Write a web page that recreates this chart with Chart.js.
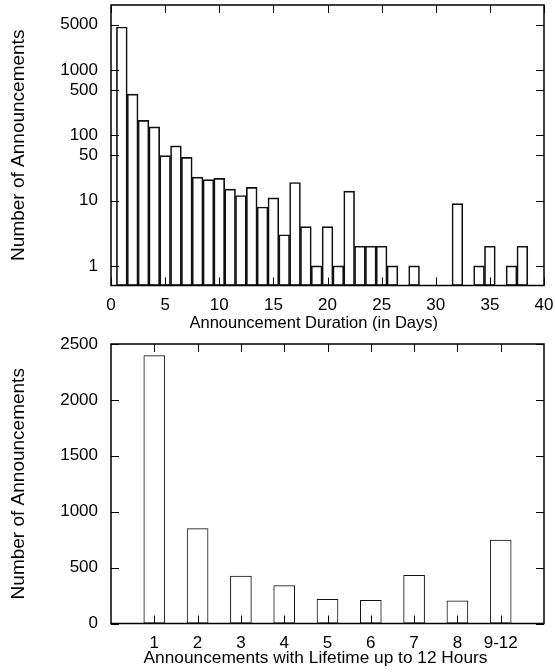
<!DOCTYPE html>
<html lang="en">

<head>
    <meta charset="UTF-8">
    <title>Announcement durations</title>
    <style>
        body { margin: 0; background: #fff; }
        canvas { position: absolute; left: 0; }
        #durChart { top: 0; }
        #hourChart { top: 336px; }
    </style>
</head>

<body>
    <canvas id="durChart" width="555" height="336"></canvas>
    <canvas id="hourChart" width="555" height="336"></canvas>

    <script src="https://cdn.jsdelivr.net/npm/chart.js"></script>

    <script>
        // top panel: announcements per duration in days (log scale)
        const days = [1, 2, 3, 4, 5, 6, 7, 8, 9, 10, 11, 12, 13, 14, 15, 16, 17, 18, 19, 20,
            21, 22, 23, 24, 25, 26, 27, 28, 29, 30, 31, 32, 33, 34, 35, 36, 37, 38];
        const dayCounts = [4600, 430, 170, 135, 49, 69, 46, 23, 21, 22, 15, 12, 16, 8, 11, 3, 19, 4, 1, 4,
            1, 14, 2, 2, 2, 1, 0, 1, 0, 0, 0, 9, 0, 1, 2, 0, 1, 2];
        const dayTicks = [0, 5, 10, 15, 20, 25, 30, 35, 40];
        const countTicks = [1, 10, 50, 100, 500, 1000, 5000];

        // bottom panel: announcements that lived up to 12 hours
        const hourLabels = ['1', '2', '3', '4', '5', '6', '7', '8', '9-12'];
        const hourCounts = [2400, 853, 428, 342, 220, 211, 434, 205, 749];
        const hourCountTicks = [0, 500, 1000, 1500, 2000, 2500];

        const family = 'Liberation Sans';
        const tickFont = { family: family, size: 17 };
        const yTitleFont = { family: family, size: 19 };
        Chart.defaults.color = '#000';

        // gnuplot style box + inward ticks on all four sides
        const frameTicks = {
            id: 'frameTicks',
            afterDatasetsDraw(chart) {
                const { ctx, chartArea: a, scales: { x, y } } = chart;
                ctx.save();
                ctx.strokeStyle = '#000';
                ctx.lineWidth = 1;
                ctx.beginPath();
                x.ticks.forEach(t => {
                    const px = Math.round(x.getPixelForValue(t.value)) + 0.5;
                    ctx.moveTo(px, a.bottom); ctx.lineTo(px, a.bottom - 8);
                    ctx.moveTo(px, a.top); ctx.lineTo(px, a.top + 8);
                });
                y.ticks.forEach(t => {
                    const py = Math.round(y.getPixelForValue(t.value)) + 0.5;
                    ctx.moveTo(a.left, py); ctx.lineTo(a.left + 8, py);
                    ctx.moveTo(a.right, py); ctx.lineTo(a.right - 8, py);
                });
                ctx.stroke();
                ctx.lineWidth = 1.5;
                ctx.strokeRect(a.left, a.top, a.width, a.height);
                ctx.restore();
            }
        };

        function barStyle() {
            return {
                backgroundColor: 'rgba(0,0,0,0)',
                borderColor: '#111',
                borderWidth: 1,
                borderSkipped: false,
                categoryPercentage: 1
            };
        }

        // fixed axis boxes, no extra room for overhanging labels
        function fixSize(w, h) {
            return s => {
                if (w) s.width = w;
                if (h) s.height = h;
                s.paddingTop = 0; s.paddingBottom = 0;
                s.paddingLeft = 0; s.paddingRight = 0;
            };
        }

        function yTitle() {
            return { display: true, text: 'Number of Announcements', font: yTitleFont, padding: { top: 7 } };
        }

        // x label sits a little left of the plot centre, as in the original (trailing spaces push it)
        function xTitle(text, size, pad) {
            return {
                display: true, text: text + '\u00a0'.repeat(pad),
                font: { family: family, size: size }, padding: { top: 0, bottom: 3 }
            };
        }

        const noGrid = { display: false, drawTicks: false, offset: false };

        // ---- top chart ----
        new Chart(document.getElementById('durChart'), {
            type: 'bar',
            data: {
                datasets: [Object.assign({
                    data: days.map((d, i) => ({ x: d, y: dayCounts[i] > 0 ? dayCounts[i] : null })),
                    barPercentage: 1
                }, barStyle())]
            },
            options: {
                responsive: false,
                animation: false,
                devicePixelRatio: 1,
                layout: { padding: { top: 5, right: 11, left: 0, bottom: 0 } },
                plugins: { legend: { display: false }, tooltip: { enabled: false } },
                scales: {
                    x: {
                        type: 'linear', min: 0, max: 40, offset: false,
                        grid: noGrid, border: { display: false },
                        afterBuildTicks: s => { s.ticks = dayTicks.map(v => ({ value: v })); },
                        afterFit: fixSize(0, 50.5),
                        ticks: { padding: 10, maxRotation: 0, font: tickFont, callback: v => String(v) },
                        title: xTitle('Announcement Duration (in Days)', 16.5, 6)
                    },
                    y: {
                        type: 'logarithmic', min: 0.5, max: 10000,
                        grid: noGrid, border: { display: false },
                        afterBuildTicks: s => { s.ticks = countTicks.map(v => ({ value: v })); },
                        afterFit: fixSize(111, 0),
                        ticks: { padding: 13, font: tickFont, callback: v => String(v) },
                        title: yTitle()
                    }
                }
            },
            plugins: [frameTicks]
        });

        // ---- bottom chart ----
        new Chart(document.getElementById('hourChart'), {
            type: 'bar',
            data: {
                datasets: [Object.assign({
                    data: hourCounts.map((c, i) => ({ x: i + 1, y: c })),
                    barPercentage: 0.5
                }, barStyle())]
            },
            options: {
                responsive: false,
                animation: false,
                devicePixelRatio: 1,
                layout: { padding: { top: 8, right: 11, left: 0, bottom: 0 } },
                plugins: { legend: { display: false }, tooltip: { enabled: false } },
                scales: {
                    x: {
                        type: 'linear', min: 0, max: 10, offset: false,
                        grid: noGrid, border: { display: false },
                        afterBuildTicks: s => { s.ticks = hourLabels.map((l, i) => ({ value: i + 1 })); },
                        afterFit: fixSize(0, 48.5),
                        ticks: { padding: 10, maxRotation: 0, font: tickFont, callback: v => hourLabels[v - 1] },
                        title: xTitle('Announcements with Lifetime up to 12 Hours', 17.3, 5)
                    },
                    y: {
                        type: 'linear', min: 0, max: 2500,
                        grid: noGrid, border: { display: false },
                        afterBuildTicks: s => { s.ticks = hourCountTicks.map(v => ({ value: v })); },
                        afterFit: fixSize(111, 0),
                        ticks: { padding: 13, font: tickFont, callback: v => String(v) },
                        title: yTitle()
                    }
                }
            },
            plugins: [frameTicks]
        });
    </script>
</body>

</html>
